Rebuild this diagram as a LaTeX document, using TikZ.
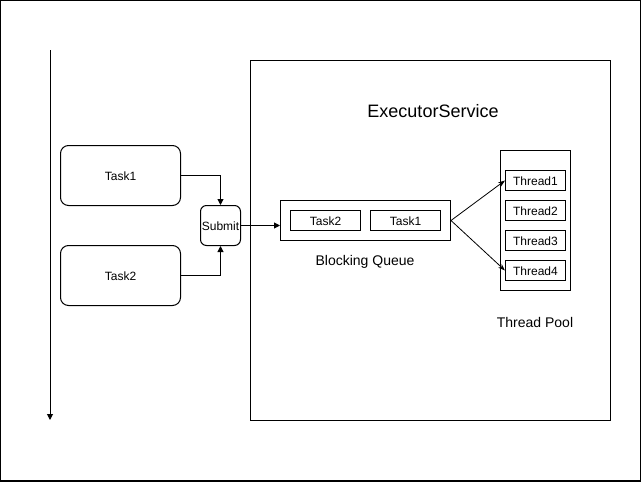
\documentclass[tikz,border=0pt]{standalone}
\usepackage{fontspec}
\setmainfont{Liberation Sans}
\usetikzlibrary{arrows.meta}
\begin{document}
\begin{tikzpicture}[x=1pt,y=-1pt,
  every node/.style={font=\fontsize{12}{14}\selectfont, inner sep=0pt},
  rbox/.style={draw, line width=1pt, rounded corners=8pt, anchor=north west},
  sbox/.style={draw, line width=1pt, anchor=north west},
  conn/.style={line width=1pt, -{Triangle[length=6pt,width=6pt]}},
  thin/.style={line width=0.8pt, -{Stealth[length=7pt,width=5pt]}}]
\useasboundingbox (0,0) rectangle (641,482);
\draw[line width=1.2pt] (0.6,0.6) rectangle (640.4,481);
% timeline
\coordinate (tl0) at (50,50);
\coordinate (tl1) at (50,420);
\draw[conn] (tl0) -- (tl1);
% tasks
\node[rbox, minimum width=120pt, minimum height=60pt] (t1) at (60,145) {};
\node at ([yshift=-1pt]t1.center) {Task1};
\node[rbox, minimum width=120pt, minimum height=60pt] (t2) at (60,245) {};
\node at ([yshift=-1pt]t2.center) {Task2};
\node[rbox, rounded corners=6pt, minimum width=40pt, minimum height=40pt] (sub) at (200,205) {};
\node at ([yshift=-1pt]sub.center) {Submit};
\draw[conn] (t1.east) -| (sub.north);
\draw[conn] (t2.east) -| (sub.south);
% executor service
\node[sbox, minimum width=360pt, minimum height=360pt] (es) at (250,60) {};
\node[font=\fontsize{18}{20}\selectfont] (eslabel) at (433,111) {ExecutorService};
% queue
\node[sbox, minimum width=170pt, minimum height=40pt] (q) at (280,200) {};
\node[sbox, minimum width=70pt, minimum height=20pt] (qt2) at (290,210) {};
\node at ([yshift=-1pt]qt2.center) {Task2};
\node[sbox, minimum width=70pt, minimum height=20pt] (qt1) at (370,210) {};
\node at ([yshift=-1pt]qt1.center) {Task1};
\node[font=\fontsize{14}{16}\selectfont] (qlabel) at (365,262) {Blocking Queue};
\draw[conn] (sub.east) -- (sub.east -| q.west);
% thread pool
\node[sbox, minimum width=70pt, minimum height=140pt] (tp) at (500,150) {};
\node[sbox, minimum width=60pt, minimum height=20pt] (th1) at (505,170) {};
\node at ([yshift=-1pt]th1.center) {Thread1};
\node[sbox, minimum width=60pt, minimum height=20pt] (th2) at (505,200) {};
\node at ([yshift=-1pt]th2.center) {Thread2};
\node[sbox, minimum width=60pt, minimum height=20pt] (th3) at (505,230) {};
\node at ([yshift=-1pt]th3.center) {Thread3};
\node[sbox, minimum width=60pt, minimum height=20pt] (th4) at (505,260) {};
\node at ([yshift=-1pt]th4.center) {Thread4};
\node[font=\fontsize{14}{16}\selectfont] (tplabel) at (535,322) {Thread Pool};
\draw[thin] (q.east) -- (th1.west);
\draw[thin] (q.east) -- (th4.west);
\end{tikzpicture}
\end{document}
